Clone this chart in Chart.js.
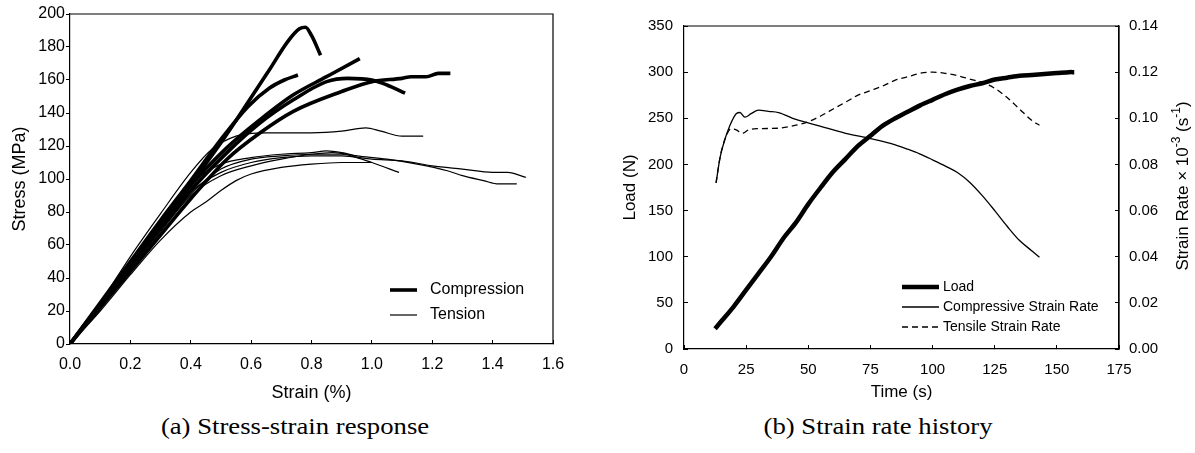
<!DOCTYPE html>
<html>
<head>
<meta charset="utf-8">
<script src="https://cdn.jsdelivr.net/npm/chart.js@4.4.1/dist/chart.umd.min.js"></script>
<style>
  body { margin: 0; background: #fff; width: 1195px; height: 453px; position: relative; overflow: hidden; }
  canvas { position: absolute; top: 0; }
  #stressChart { left: 0; }
  #rateChart { left: 600px; }
  .caption { position: absolute; top: 414px; font-family: "Liberation Serif", serif; font-size: 23px; color: #000; white-space: nowrap; transform: translateX(-50%) scaleX(1.16); }
</style>
</head>
<body>
<canvas id="stressChart" width="590" height="410"></canvas>
<canvas id="rateChart" width="595" height="410"></canvas>
<div class="caption" style="left:295px">(a) Stress-strain response</div>
<div class="caption" style="left:878px">(b) Strain rate history</div>
<script>
// compression tests, [strain %, stress MPa]
const compA = [[0,0],[0.1,24],[0.2,49],[0.3,73],[0.4,97],[0.5,122],[0.57,141],[0.66,166],[0.72,183],[0.76,191],[0.78,192],[0.8,187],[0.83,175]];
const compB = [[0,0],[0.1,25],[0.2,50],[0.3,75],[0.4,99],[0.5,124],[0.59,144],[0.66,155],[0.71,160],[0.755,163]];
const compC = [[0,0],[0.1,24],[0.2,48],[0.3,72],[0.4,96],[0.52,119],[0.63,136],[0.74,151],[0.85,162],[0.96,173]];
const compD = [[0,0],[0.1,23],[0.2,47],[0.3,70],[0.4,93],[0.52,116],[0.63,134],[0.74,148],[0.85,159],[0.92,161],[1.0,160],[1.05,157],[1.11,152]];
const compE = [[0,0],[0.1,22],[0.2,44],[0.3,66],[0.4,88],[0.52,112],[0.63,128],[0.74,141],[0.9,153],[1.0,159],[1.1,161],[1.13,162],[1.18,162],[1.22,164],[1.26,164]];

// tension tests, [strain %, stress MPa]
const tensA = [[0,0],[0.1,25],[0.2,53],[0.3,79],[0.4,104],[0.47,118],[0.55,126],[0.65,128],[0.8,128],[0.9,129],[0.98,131],[1.03,129],[1.1,126],[1.17,126]];
const tensB = [[0,0],[0.1,22],[0.2,46],[0.3,69],[0.4,91],[0.5,106],[0.6,112],[0.7,114],[0.8,115],[0.9,115],[0.95,113],[1.0,110],[1.09,104]];
const tensC = [[0,0],[0.1,23],[0.2,47],[0.3,70],[0.4,92],[0.5,104],[0.6,110],[0.7,113],[0.8,114],[0.9,114],[1.0,112],[1.1,111],[1.2,108],[1.3,106],[1.4,104],[1.45,104],[1.51,101]];
const tensD = [[0,0],[0.1,22],[0.2,45],[0.3,68],[0.4,90],[0.5,102],[0.6,108],[0.7,112],[0.8,115],[0.87,116],[0.95,114],[1.05,112],[1.15,109],[1.25,105],[1.3,102],[1.37,99],[1.42,97],[1.48,97]];
const tensE = [[0,0],[0.1,20],[0.2,42],[0.3,63],[0.4,80],[0.45,86],[0.5,93],[0.55,99],[0.6,103],[0.7,107],[0.8,109],[0.9,110],[1.0,110]];
const tensF = [[0,0],[0.1,24],[0.2,50],[0.3,74],[0.4,97],[0.5,109],[0.6,113],[0.7,115],[0.8,116],[0.85,117],[0.9,116],[0.95,114]];

// load and strain rate against time
const loadTime = [12.5,15,20,25,30,35,40,45,50,55,60,65,70,75,80,85,90,95,100,105,110,115,120,125,130,135,140,145,150,155,157];
const loadN = [22,30,46,64,82,100,120,137,157,175,192,206,220,231,242,250,257,264,270,276,281,285,288,292,294,296,297,298,299,300,300];
const compRateTime = [12.9,14.5,16.5,18.5,21,22.5,24.5,27,30,34,38,45,55,65,75,85,90,95,100,105,110,115,120,125,130,135,140,143];
const compRate = [0.072,0.083,0.091,0.097,0.102,0.1025,0.1005,0.102,0.1035,0.103,0.1025,0.0995,0.0965,0.0935,0.0912,0.0885,0.0866,0.0845,0.082,0.0794,0.0765,0.0722,0.0665,0.06,0.0532,0.047,0.0425,0.0398];
const tensRateTime = [12.9,14.5,16.5,19,21,23.5,26,30,38,45,50,55,60,65,70,75,80,85,90,95,100,105,110,115,120,125,130,135,140,143];
const tensRate = [0.072,0.083,0.091,0.0955,0.095,0.0935,0.095,0.0955,0.0957,0.097,0.0985,0.101,0.104,0.107,0.11,0.112,0.114,0.1165,0.118,0.1195,0.12,0.1195,0.1185,0.117,0.1155,0.113,0.109,0.104,0.099,0.097];

const sans = `"Liberation Sans", Arial, sans-serif`;
const font = (size) => ({family: sans, size});

const toPoints = (pairs) => pairs.map(([x, y]) => ({x, y}));
const zip = (xs, ys) => xs.map((x, i) => ({x, y: ys[i]}));

const curve = (label, pairs, width) => ({
  label,
  data: toPoints(pairs),
  borderColor: `#000`,
  borderWidth: width,
  pointRadius: 0,
  fill: false,
  cubicInterpolationMode: `monotone`
});

// closes the plot box on the top and right
const frame = {
  id: `frame`,
  afterDraw(chart) {
    const {ctx, chartArea: a} = chart;
    ctx.save();
    ctx.strokeStyle = `#000`;
    ctx.lineWidth = 1.2;
    ctx.beginPath();
    ctx.moveTo(a.left, a.top);
    ctx.lineTo(a.right, a.top);
    ctx.lineTo(a.right, a.bottom);
    ctx.stroke();
    ctx.restore();
  }
};

// legend drawn inside the plot area from the dataset styles
const boxLegend = (entries, x, y, gap, sample, textGap, size) => ({
  id: `boxLegend`,
  afterDraw(chart) {
    const {ctx} = chart;
    ctx.save();
    ctx.font = `${size}px ${sans}`;
    ctx.textBaseline = `middle`;
    ctx.fillStyle = `#000`;
    entries.forEach((i, row) => {
      const ds = chart.data.datasets[i];
      const ly = y + row * gap;
      ctx.strokeStyle = `#000`;
      ctx.lineWidth = ds.borderWidth;
      ctx.setLineDash(ds.borderDash || []);
      ctx.beginPath();
      ctx.moveTo(x, ly);
      ctx.lineTo(x + sample, ly);
      ctx.stroke();
      ctx.setLineDash([]);
      ctx.fillText(ds.label, x + sample + textGap, ly);
    });
    ctx.restore();
  }
});

const axisTicks = (tickLength) => ({
  display: true,
  drawOnChartArea: false,
  drawTicks: true,
  tickLength,
  color: `#000`,
  lineWidth: 1
});

new Chart(document.getElementById(`stressChart`), {
  type: `line`,
  data: {
    datasets: [
      curve(`Compression`, compA, 3.6),
      curve(`Compression`, compB, 3.6),
      curve(`Compression`, compC, 3.6),
      curve(`Compression`, compD, 3.6),
      curve(`Compression`, compE, 3.6),
      curve(`Tension`, tensA, 1.2),
      curve(`Tension`, tensB, 1.2),
      curve(`Tension`, tensC, 1.2),
      curve(`Tension`, tensD, 1.2),
      curve(`Tension`, tensE, 1.2),
      curve(`Tension`, tensF, 1.2)
    ]
  },
  options: {
    responsive: false,
    animation: false,
    layout: {padding: {top: 14, right: 37, bottom: 0, left: 0}},
    plugins: {legend: {display: false}, tooltip: {enabled: false}},
    scales: {
      x: {
        type: `linear`,
        min: 0,
        max: 1.6,
        ticks: {stepSize: 0.2, font: font(16), color: `#000`, padding: 15, maxRotation: 0, callback: (v) => v.toFixed(1)},
        grid: axisTicks(-4),
        border: {color: `#000`, width: 1.2},
        title: {display: true, text: `Strain (%)`, font: font(18), color: `#000`, padding: {top: 6, bottom: 6}},
        afterFit(scale) { scale.height = 66; }
      },
      y: {
        min: 0,
        max: 200,
        ticks: {stepSize: 20, font: font(16), color: `#000`, padding: 1},
        grid: axisTicks(4),
        border: {color: `#000`, width: 1.2},
        title: {display: true, text: `Stress (MPa)`, font: font(18), color: `#000`, padding: {top: 9, bottom: 9}},
        afterFit(scale) { scale.width = 70; }
      }
    }
  },
  plugins: [frame, boxLegend([0, 5], 390, 290, 25, 27, 13, 16)]
});

// right axis title with superscripts
const rateTitle = {
  id: `rateTitle`,
  afterDraw(chart) {
    const {ctx} = chart;
    const parts = [[`Strain Rate \u00d7 10`, false], [`-3`, true], [` (s`, false], [`-1`, true], [`)`, false]];
    ctx.save();
    ctx.translate(583, 186);
    ctx.rotate(-Math.PI / 2);
    ctx.fillStyle = `#000`;
    ctx.textBaseline = `middle`;
    const fontOf = (sup) => `${sup ? 12 : 17}px ${sans}`;
    let total = 0;
    parts.forEach(([t, sup]) => { ctx.font = fontOf(sup); total += ctx.measureText(t).width; });
    let x = -total / 2;
    parts.forEach(([t, sup]) => {
      ctx.font = fontOf(sup);
      ctx.fillText(t, x, sup ? -6 : 0);
      x += ctx.measureText(t).width;
    });
    ctx.restore();
  }
};

new Chart(document.getElementById(`rateChart`), {
  type: `line`,
  data: {
    datasets: [
      {label: `Load`, data: zip(loadTime, loadN), yAxisID: `y`, borderColor: `#000`, borderWidth: 4.5, pointRadius: 0, tension: 0.3},
      {label: `Compressive Strain Rate`, data: zip(compRateTime, compRate), yAxisID: `y1`, borderColor: `#000`, borderWidth: 1.3, pointRadius: 0, cubicInterpolationMode: `monotone`},
      {label: `Tensile Strain Rate`, data: zip(tensRateTime, tensRate), yAxisID: `y1`, borderColor: `#000`, borderWidth: 1.3, borderDash: [6, 4], pointRadius: 0, cubicInterpolationMode: `monotone`}
    ]
  },
  options: {
    responsive: false,
    animation: false,
    layout: {padding: {top: 26, right: 0, bottom: 0, left: 0}},
    plugins: {legend: {display: false}, tooltip: {enabled: false}},
    scales: {
      x: {
        type: `linear`,
        min: 0,
        max: 175,
        ticks: {stepSize: 25, font: font(15), color: `#000`, padding: 16, maxRotation: 0},
        grid: axisTicks(-4),
        border: {color: `#000`, width: 1.2},
        title: {display: true, text: `Time (s)`, font: font(17), color: `#000`, padding: {top: 7, bottom: 7}},
        afterFit(scale) { scale.height = 61; }
      },
      y: {
        position: `left`,
        min: 0,
        max: 350,
        ticks: {stepSize: 50, font: font(15), color: `#000`, padding: 15},
        grid: axisTicks(-4),
        border: {color: `#000`, width: 1.2},
        title: {display: true, text: `Load (N)`, font: font(17), color: `#000`, padding: {top: 20, bottom: 20}},
        afterFit(scale) { scale.width = 84; }
      },
      y1: {
        position: `right`,
        min: 0,
        max: 0.14,
        ticks: {stepSize: 0.02, font: font(15), color: `#000`, padding: 14, callback: (v) => v.toFixed(2)},
        grid: axisTicks(-4),
        border: {color: `#000`, width: 1.2},
        afterFit(scale) { scale.width = 76; }
      }
    }
  },
  plugins: [frame, rateTitle, boxLegend([0, 1, 2], 302, 287, 20, 37, 4, 14)]
});
</script>
</body>
</html>
